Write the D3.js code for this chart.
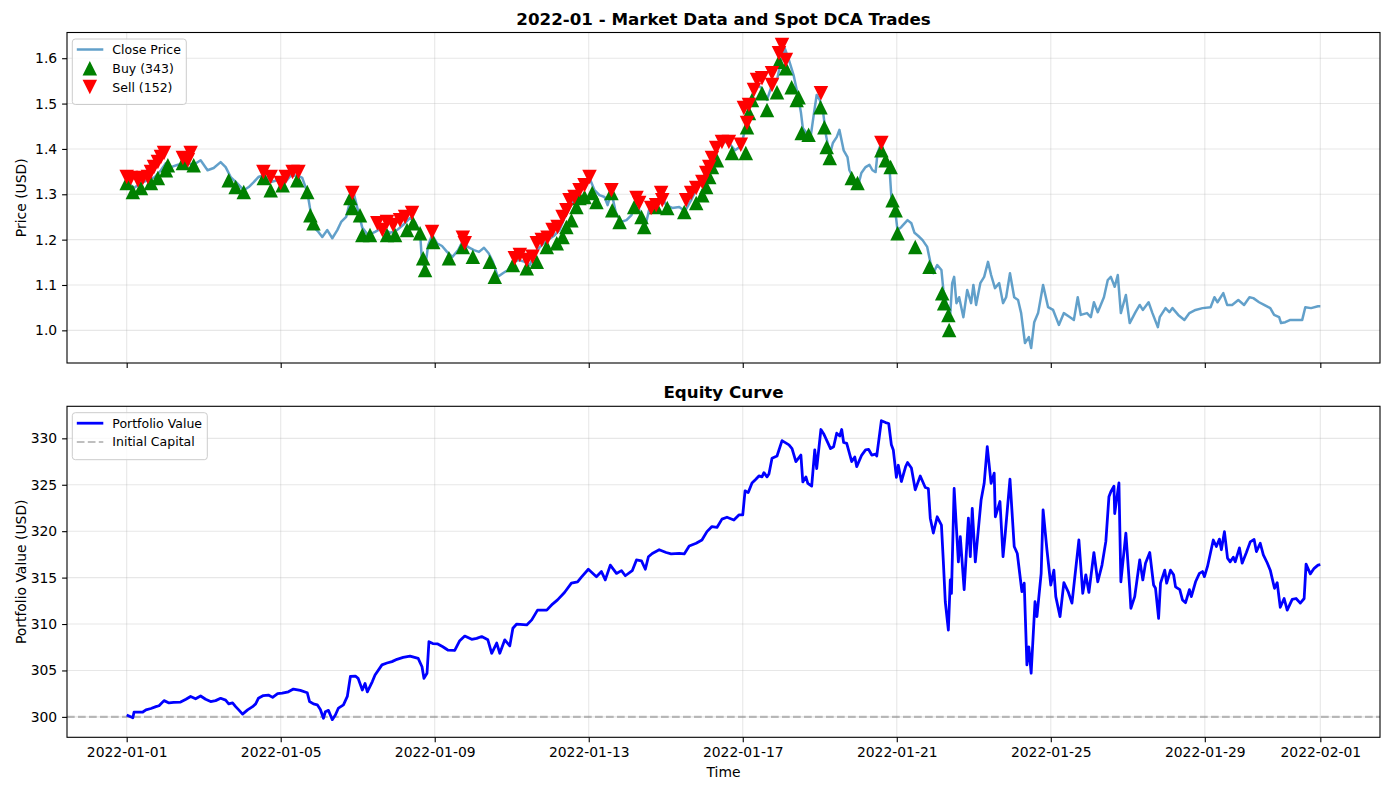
<!DOCTYPE html>
<html>
<head>
<meta charset="utf-8">
<script src="https://cdn.jsdelivr.net/npm/d3@7"></script>
<style>
  body { margin: 0; background: #fff; }
  svg { display: block; font-family: "DejaVu Sans", sans-serif; }
</style>
</head>
<body>
<svg id="chart" width="1389" height="790"></svg>
<script>
// Close price, [day offset from 2022-01-01, USD]
const closePrice = [
  [0.00,1.327],[0.19,1.314],[0.37,1.325],[0.55,1.331],[0.73,1.338],[0.89,1.353],[1.02,1.369],[1.15,1.360],
  [1.33,1.365],[1.54,1.369],[1.74,1.365],[1.92,1.375],[2.10,1.353],[2.26,1.358],[2.44,1.371],[2.57,1.360],
  [2.70,1.338],[2.86,1.325],[3.04,1.309],[3.17,1.316],[3.30,1.327],[3.42,1.338],[3.55,1.342],[3.74,1.327],
  [3.92,1.331],[4.10,1.325],[4.25,1.340],[4.43,1.342],[4.56,1.336],[4.69,1.305],[4.77,1.265],[4.85,1.228],
  [4.98,1.217],[5.08,1.206],[5.21,1.221],[5.34,1.203],[5.47,1.221],[5.57,1.239],[5.70,1.250],[5.81,1.287],
  [5.89,1.305],[5.99,1.270],[6.12,1.226],[6.27,1.210],[6.45,1.217],[6.63,1.226],[6.84,1.215],[7.02,1.221],
  [7.20,1.234],[7.36,1.248],[7.49,1.239],[7.62,1.215],[7.67,1.151],[7.75,1.137],[7.83,1.188],[7.93,1.210],
  [8.06,1.192],[8.19,1.186],[8.32,1.173],[8.46,1.162],[8.61,1.177],[8.74,1.199],[8.86,1.184],[9.02,1.177],
  [9.15,1.173],[9.28,1.182],[9.40,1.170],[9.51,1.151],[9.64,1.118],[9.77,1.126],[9.90,1.133],[10.03,1.151],
  [10.18,1.155],[10.34,1.151],[10.47,1.144],[10.62,1.173],[10.78,1.188],[10.93,1.199],[11.09,1.208],[11.24,1.221],
  [11.37,1.248],[11.50,1.270],[11.63,1.287],[11.76,1.303],[11.89,1.318],[12.02,1.336],[12.15,1.309],[12.28,1.298],
  [12.41,1.294],[12.49,1.276],[12.59,1.305],[12.70,1.261],[12.83,1.239],[12.98,1.243],[13.11,1.254],[13.24,1.287],
  [13.37,1.248],[13.47,1.230],[13.58,1.270],[13.73,1.276],[13.88,1.298],[14.01,1.276],[14.17,1.270],[14.35,1.272],
  [14.50,1.263],[14.66,1.287],[14.81,1.314],[14.95,1.331],[15.07,1.358],[15.20,1.380],[15.33,1.402],[15.49,1.417],
  [15.64,1.413],[15.80,1.397],[15.95,1.406],[16.06,1.442],[16.13,1.481],[16.24,1.512],[16.37,1.541],[16.50,1.534],
  [16.63,1.508],[16.76,1.541],[16.89,1.552],[16.99,1.592],[17.09,1.622],[17.20,1.596],[17.32,1.563],[17.43,1.519],
  [17.51,1.481],[17.56,1.446],[17.66,1.435],[17.77,1.431],[17.85,1.479],[17.92,1.519],[18.00,1.508],[18.08,1.486],
  [18.16,1.431],[18.26,1.387],[18.34,1.413],[18.44,1.426],[18.51,1.442],[18.62,1.397],[18.72,1.382],[18.77,1.353],
  [18.90,1.331],[19.00,1.320],[19.08,1.347],[19.19,1.360],[19.29,1.365],[19.37,1.353],[19.45,1.349],[19.50,1.391],
  [19.60,1.413],[19.71,1.375],[19.81,1.360],[19.86,1.294],[19.94,1.276],[20.02,1.221],[20.12,1.228],[20.28,1.243],
  [20.38,1.236],[20.46,1.215],[20.56,1.208],[20.67,1.199],[20.79,1.184],[20.87,1.151],[20.95,1.126],[21.05,1.144],
  [21.16,1.133],[21.21,1.089],[21.29,1.060],[21.39,1.038],[21.44,1.104],[21.49,1.118],[21.55,1.060],[21.62,1.073],
  [21.73,1.029],[21.83,1.089],[21.93,1.060],[21.99,1.100],[22.06,1.056],[22.17,1.104],[22.27,1.118],[22.37,1.151],
  [22.45,1.122],[22.55,1.093],[22.66,1.104],[22.76,1.060],[22.84,1.073],[22.94,1.126],[23.05,1.073],[23.15,1.067],
  [23.23,1.038],[23.33,0.972],[23.43,0.985],[23.49,0.961],[23.57,1.018],[23.67,1.038],[23.80,1.100],[23.93,1.051],
  [24.06,1.045],[24.21,1.012],[24.34,1.038],[24.50,1.029],[24.60,1.023],[24.70,1.073],[24.78,1.034],[24.94,1.038],
  [25.04,1.029],[25.12,1.062],[25.22,1.040],[25.38,1.073],[25.48,1.111],[25.56,1.118],[25.66,1.096],[25.74,1.122],
  [25.82,1.038],[25.95,1.078],[26.05,1.016],[26.20,1.040],[26.31,1.056],[26.39,1.045],[26.54,1.062],[26.64,1.038],
  [26.78,1.007],[26.83,1.029],[26.98,1.049],[27.08,1.040],[27.16,1.049],[27.31,1.034],[27.47,1.023],[27.60,1.038],
  [27.76,1.045],[27.94,1.049],[28.15,1.051],[28.25,1.073],[28.33,1.062],[28.48,1.082],[28.58,1.056],[28.71,1.056],
  [28.87,1.067],[29.02,1.056],[29.16,1.073],[29.26,1.071],[29.41,1.062],[29.54,1.056],[29.70,1.049],[29.80,1.034],
  [29.93,1.029],[29.98,1.016],[30.09,1.018],[30.22,1.023],[30.37,1.023],[30.53,1.023],[30.61,1.051],[30.76,1.049],
  [30.94,1.053],[31.00,1.053]
];

// Buy fills, [day, price]
const buyTrades = [
  [0.00,1.325],[0.16,1.305],[0.37,1.314],[0.63,1.325],[0.81,1.336],[1.02,1.353],[1.07,1.364],[1.46,1.369],
  [1.74,1.364],[2.65,1.331],[2.83,1.316],[3.04,1.305],[3.56,1.336],[3.74,1.309],[4.05,1.320],[4.43,1.331],
  [4.69,1.305],[4.77,1.254],[4.85,1.236],[5.81,1.292],[5.86,1.270],[6.06,1.254],[6.12,1.210],[6.32,1.210],
  [6.76,1.210],[6.97,1.210],[7.28,1.221],[7.44,1.236],[7.62,1.214],[7.70,1.159],[7.75,1.133],[7.96,1.195],
  [8.37,1.159],[8.73,1.184],[8.99,1.162],[9.43,1.151],[9.56,1.118],[10.03,1.144],[10.39,1.137],[10.65,1.151],
  [10.91,1.184],[11.17,1.192],[11.32,1.206],[11.42,1.228],[11.55,1.243],[11.68,1.272],[11.76,1.292],[11.89,1.294],
  [12.09,1.303],[12.20,1.283],[12.59,1.303],[12.61,1.265],[12.80,1.239],[13.18,1.272],[13.37,1.250],[13.44,1.228],
  [13.75,1.272],[14.04,1.270],[14.48,1.261],[14.79,1.281],[14.95,1.298],[15.05,1.316],[15.13,1.338],[15.20,1.360],
  [15.33,1.375],[15.72,1.391],[16.08,1.391],[16.11,1.448],[16.16,1.479],[16.24,1.508],[16.50,1.523],[16.63,1.486],
  [16.89,1.525],[16.94,1.592],[17.12,1.578],[17.27,1.536],[17.40,1.508],[17.45,1.514],[17.53,1.435],[17.71,1.431],
  [18.02,1.492],[18.12,1.448],[18.18,1.404],[18.26,1.380],[18.83,1.336],[18.98,1.325],[19.60,1.397],[19.71,1.375],
  [19.84,1.360],[19.89,1.287],[19.97,1.265],[20.02,1.214],[20.48,1.184],[20.85,1.140],[21.18,1.082],[21.23,1.060],
  [21.34,1.034],[21.36,1.001]
];

// Sell fills, [day, price]
const sellTrades = [
  [0.00,1.338],[0.11,1.336],[0.29,1.331],[0.42,1.336],[0.55,1.338],[0.63,1.349],[0.71,1.360],[0.81,1.371],
  [0.89,1.382],[0.97,1.391],[1.46,1.380],[1.59,1.375],[1.66,1.391],[3.55,1.349],[3.74,1.338],[4.00,1.325],
  [4.13,1.338],[4.31,1.349],[4.46,1.349],[5.86,1.303],[6.51,1.236],[6.64,1.221],[6.76,1.239],[6.92,1.232],
  [7.10,1.243],[7.23,1.250],[7.41,1.259],[7.93,1.217],[8.73,1.204],[8.78,1.192],[10.08,1.159],[10.21,1.166],
  [10.39,1.155],[10.54,1.162],[10.65,1.192],[10.78,1.199],[10.93,1.204],[11.06,1.221],[11.19,1.228],[11.32,1.250],
  [11.42,1.265],[11.50,1.287],[11.63,1.294],[11.76,1.309],[11.89,1.320],[12.02,1.338],[12.59,1.309],[13.24,1.292],
  [13.31,1.281],[13.62,1.270],[13.75,1.276],[13.88,1.303],[13.91,1.287],[14.53,1.287],[14.66,1.303],[14.79,1.314],
  [14.95,1.327],[15.05,1.347],[15.13,1.360],[15.20,1.380],[15.31,1.402],[15.46,1.415],[15.64,1.415],[15.95,1.409],
  [16.03,1.490],[16.11,1.457],[16.16,1.497],[16.29,1.530],[16.37,1.552],[16.50,1.556],[16.76,1.541],[16.76,1.567],
  [16.94,1.611],[17.02,1.629],[17.12,1.596],[18.03,1.523],[19.60,1.413]
];
const buyCount = 343;
const sellCount = 152;

// Portfolio value, [day, USD]
const portfolioValue = [
  [0.00,300.2],[0.16,299.9],[0.19,300.5],[0.41,300.5],[0.50,300.75],[0.63,300.9],[0.76,301.1],[0.84,301.2],
  [0.97,301.75],[1.10,301.5],[1.22,301.55],[1.40,301.6],[1.54,301.9],[1.66,302.2],[1.79,301.95],[1.92,302.25],
  [2.05,301.9],[2.18,301.65],[2.31,301.75],[2.44,302.0],[2.57,301.8],[2.65,301.4],[2.75,301.5],[2.83,301.1],
  [2.91,300.75],[3.01,300.3],[3.14,300.75],[3.27,301.1],[3.35,301.4],[3.42,302.0],[3.55,302.3],[3.68,302.35],
  [3.79,302.1],[3.92,302.5],[4.04,302.55],[4.20,302.7],[4.33,303.0],[4.51,302.85],[4.69,302.6],[4.75,301.65],
  [4.85,301.4],[4.95,301.3],[5.03,300.8],[5.11,299.85],[5.16,300.55],[5.24,300.7],[5.34,299.7],[5.42,300.2],
  [5.50,300.95],[5.63,301.3],[5.73,302.2],[5.81,304.35],[5.94,304.4],[6.01,304.15],[6.12,302.9],[6.19,303.6],
  [6.25,302.7],[6.38,303.8],[6.45,304.5],[6.63,305.6],[6.76,305.8],[6.89,305.95],[7.02,306.2],[7.18,306.4],
  [7.36,306.55],[7.57,306.3],[7.67,305.4],[7.72,304.15],[7.80,304.7],[7.85,308.1],[7.95,307.9],[8.08,307.85],
  [8.21,307.55],[8.34,307.2],[8.52,307.15],[8.65,308.2],[8.78,308.7],[8.96,308.35],[9.09,308.45],[9.22,308.65],
  [9.38,308.3],[9.48,306.85],[9.61,307.95],[9.69,306.85],[9.82,308.3],[9.95,307.65],[10.03,309.55],[10.13,310.0],
  [10.39,309.9],[10.52,310.45],[10.67,311.5],[10.91,311.5],[11.06,312.15],[11.19,312.6],[11.37,313.4],[11.55,314.4],
  [11.71,314.55],[11.81,315.05],[11.99,315.9],[12.20,315.1],[12.33,315.65],[12.43,314.75],[12.56,316.35],[12.72,315.45],
  [12.85,315.75],[12.95,315.2],[13.13,315.75],[13.24,316.9],[13.37,316.8],[13.47,315.9],[13.55,317.25],[13.65,317.6],
  [13.83,318.0],[14.01,317.7],[14.14,317.55],[14.35,317.6],[14.48,317.55],[14.61,318.4],[14.79,318.7],[14.94,319.05],
  [15.07,319.95],[15.20,320.5],[15.33,320.4],[15.46,321.3],[15.59,321.5],[15.77,321.2],[15.90,321.75],[16.00,321.75],
  [16.06,324.35],[16.14,324.15],[16.24,325.2],[16.34,325.6],[16.42,325.95],[16.50,325.85],[16.55,326.3],[16.63,325.85],
  [16.68,326.15],[16.76,327.85],[16.89,328.1],[17.02,329.75],[17.20,329.3],[17.28,328.9],[17.38,327.5],[17.51,328.2],
  [17.56,325.3],[17.64,325.85],[17.69,325.15],[17.79,324.85],[17.87,328.75],[17.92,326.75],[18.03,330.95],[18.10,330.5],
  [18.28,328.9],[18.36,329.1],[18.44,330.55],[18.52,330.25],[18.57,330.95],[18.62,329.55],[18.70,329.45],[18.83,327.5],
  [18.91,328.0],[18.96,326.95],[19.09,328.2],[19.19,328.75],[19.27,328.8],[19.35,328.2],[19.45,328.3],[19.48,328.1],
  [19.60,331.9],[19.71,331.7],[19.79,331.6],[19.86,329.3],[19.91,328.75],[19.99,325.8],[20.04,327.1],[20.12,325.35],
  [20.23,326.95],[20.28,327.4],[20.38,326.8],[20.48,324.45],[20.61,325.95],[20.74,324.7],[20.82,324.6],[20.87,321.4],
  [20.95,319.8],[21.05,321.55],[21.16,320.65],[21.21,316.7],[21.26,312.4],[21.34,309.35],[21.39,314.75],[21.42,313.3],
  [21.49,324.6],[21.60,316.7],[21.65,319.4],[21.75,313.7],[21.86,321.4],[21.91,317.25],[21.96,322.45],[22.04,316.7],
  [22.19,323.35],[22.27,325.15],[22.35,329.1],[22.45,325.15],[22.53,326.25],[22.56,321.55],[22.68,323.2],[22.76,317.25],
  [22.81,319.4],[22.94,325.6],[23.05,318.35],[23.13,317.6],[23.25,313.5],[23.31,314.4],[23.38,305.6],[23.43,307.55],
  [23.49,304.7],[23.59,312.4],[23.64,310.8],[23.75,315.45],[23.80,322.3],[23.90,318.0],[24.00,314.2],[24.08,315.8],
  [24.13,312.95],[24.24,310.8],[24.34,314.45],[24.45,313.5],[24.55,312.25],[24.73,319.05],[24.83,313.3],[24.91,315.3],
  [24.99,313.4],[25.12,317.7],[25.22,314.55],[25.33,316.35],[25.43,318.9],[25.51,323.7],[25.56,324.25],[25.64,324.85],
  [25.66,321.9],[25.77,325.2],[25.82,314.55],[25.95,319.8],[26.05,313.85],[26.08,311.7],[26.18,312.95],[26.31,316.9],
  [26.39,314.75],[26.46,316.55],[26.57,317.7],[26.67,314.2],[26.72,313.85],[26.80,310.6],[26.85,314.4],[26.96,315.8],
  [27.01,314.4],[27.11,315.8],[27.19,315.3],[27.24,314.0],[27.35,313.7],[27.42,312.6],[27.50,312.3],[27.60,313.7],
  [27.65,312.95],[27.76,314.55],[27.86,315.45],[27.94,315.65],[27.99,315.1],[28.07,316.2],[28.22,319.05],[28.30,318.35],
  [28.38,319.15],[28.43,318.0],[28.51,319.95],[28.59,317.1],[28.66,316.7],[28.74,317.2],[28.79,316.7],[28.90,318.2],
  [28.97,316.55],[29.08,317.7],[29.18,318.85],[29.28,319.1],[29.34,317.8],[29.44,318.7],[29.52,317.45],[29.62,316.6],
  [29.70,315.8],[29.81,313.85],[29.88,314.45],[29.96,311.8],[30.06,312.75],[30.14,311.5],[30.27,312.65],[30.37,312.75],
  [30.48,312.25],[30.58,312.75],[30.63,316.45],[30.74,315.4],[30.84,316.0],[30.94,316.35],[31.00,316.4]
];
const initialCapital = 300;

const priceTicks = [1.0, 1.1, 1.2, 1.3, 1.4, 1.5, 1.6];
const equityTicks = [300, 305, 310, 315, 320, 325, 330];

// ---- layout ----
const startDate = new Date(2022, 0, 1);
const endDate = new Date(2022, 1, 1);
const dayMs = 864e5;
const toDate = d => new Date(startDate.getTime() + d * dayMs);
const pad = 31 * 0.05 * dayMs;

const left = 67, right = 1380;
const top1 = { top: 32.5, bottom: 363 };
const top2 = { top: 406.3, bottom: 737.3 };

const svg = d3.select("#chart");

const x = d3.scaleTime()
  .domain([new Date(startDate.getTime() - pad), new Date(endDate.getTime() + pad)])
  .range([left, right]);
const xTicks = x.ticks(d3.timeDay.every(4));

const yPrice = d3.scaleLinear().domain([0.928, 1.6567]).range([top1.bottom, top1.top]);
const yEq = d3.scaleLinear().domain([297.8, 333.45]).range([top2.bottom, top2.top]);

function panel(y, box, ticks, fmt, showXLabels) {
  const g = svg.append("g");
  g.append("rect").attr("x", left).attr("y", box.top)
    .attr("width", right - left).attr("height", box.bottom - box.top).attr("fill", "#fff");
  // grid
  g.selectAll(".gx").data(xTicks).join("line")
    .attr("x1", d => x(d)).attr("x2", d => x(d))
    .attr("y1", box.top).attr("y2", box.bottom)
    .attr("stroke", "#b0b0b0").attr("stroke-opacity", 0.3).attr("stroke-width", 1.1);
  g.selectAll(".gy").data(ticks).join("line")
    .attr("x1", left).attr("x2", right)
    .attr("y1", d => y(d)).attr("y2", d => y(d))
    .attr("stroke", "#b0b0b0").attr("stroke-opacity", 0.3).attr("stroke-width", 1.1);

  const ax = g.append("g").attr("transform", `translate(0,${box.bottom})`)
    .call(d3.axisBottom(x).tickValues(xTicks).tickSize(4.9).tickPadding(4.9)
      .tickFormat(showXLabels ? d3.timeFormat("%Y-%m-%d") : ""));
  const ay = g.append("g").attr("transform", `translate(${left},0)`)
    .call(d3.axisLeft(y).tickValues(ticks).tickSize(4.9).tickPadding(4.9).tickFormat(fmt));
  [ax, ay].forEach(a => {
    a.select(".domain").remove();
    a.selectAll("line").attr("stroke", "#000").attr("stroke-width", 1.1);
    a.selectAll("text").attr("fill", "#000").style("font-size", "13.9px")
      .style("font-family", "DejaVu Sans, sans-serif");
  });
  return g;
}

function frame(box) {
  svg.append("rect").attr("x", left).attr("y", box.top)
    .attr("width", right - left).attr("height", box.bottom - box.top)
    .attr("fill", "none").attr("stroke", "#000").attr("stroke-width", 1.1);
}

function triangle(up, s) {
  const h = s / 2;
  return up ? `M0,${-h}L${h},${h}L${-h},${h}Z` : `M0,${h}L${h},${-h}L${-h},${-h}Z`;
}

// ---- top panel: price and trades ----
const g1 = panel(yPrice, top1, priceTicks, d3.format(".1f"), false);

g1.append("path")
  .datum(closePrice)
  .attr("fill", "none")
  .attr("stroke", "#1f77b4")
  .attr("stroke-opacity", 0.7)
  .attr("stroke-width", 2.5)
  .attr("stroke-linejoin", "round")
  .attr("d", d3.line().x(d => x(toDate(d[0]))).y(d => yPrice(d[1])));

g1.selectAll(".buy").data(buyTrades).join("path")
  .attr("class", "buy")
  .attr("transform", d => `translate(${x(toDate(d[0]))},${yPrice(d[1])})`)
  .attr("d", triangle(true, 14.5))
  .attr("fill", "#008000");

g1.selectAll(".sell").data(sellTrades).join("path")
  .attr("class", "sell")
  .attr("transform", d => `translate(${x(toDate(d[0]))},${yPrice(d[1])})`)
  .attr("d", triangle(false, 14.5))
  .attr("fill", "#ff0000");

frame(top1);

// ---- bottom panel: equity ----
const g2 = panel(yEq, top2, equityTicks, d3.format("d"), true);

g2.append("line")
  .attr("x1", left).attr("x2", right)
  .attr("y1", yEq(initialCapital)).attr("y2", yEq(initialCapital))
  .attr("stroke", "#808080").attr("stroke-opacity", 0.5)
  .attr("stroke-width", 2.08).attr("stroke-dasharray", "7.7,3.3");

g2.append("path")
  .datum(portfolioValue)
  .attr("fill", "none")
  .attr("stroke", "#0000ff")
  .attr("stroke-width", 2.78)
  .attr("stroke-linejoin", "round")
  .attr("d", d3.line().x(d => x(toDate(d[0]))).y(d => yEq(d[1])));

frame(top2);

// ---- titles and labels ----
const cx = (left + right) / 2;
svg.append("text").attr("x", cx).attr("y", 24.5).attr("text-anchor", "middle")
  .style("font-size", "16.7px").style("font-weight", "bold")
  .text("2022-01 - Market Data and Spot DCA Trades");
svg.append("text").attr("x", cx).attr("y", 398).attr("text-anchor", "middle")
  .style("font-size", "16.7px").style("font-weight", "bold")
  .text("Equity Curve");
svg.append("text").attr("x", cx).attr("y", 777).attr("text-anchor", "middle")
  .style("font-size", "13.9px").text("Time");
svg.append("text")
  .attr("transform", `translate(26,${(top1.top + top1.bottom) / 2}) rotate(-90)`)
  .attr("text-anchor", "middle").style("font-size", "13.9px").text("Price (USD)");
svg.append("text")
  .attr("transform", `translate(26,${(top2.top + top2.bottom) / 2}) rotate(-90)`)
  .attr("text-anchor", "middle").style("font-size", "13.9px").text("Portfolio Value (USD)");

// ---- legends ----
function legend(x0, y0, w, items) {
  const g = svg.append("g").attr("transform", `translate(${x0},${y0})`);
  const h = 10 + items.length * 18.5;
  g.append("rect").attr("width", w).attr("height", h).attr("rx", 3)
    .attr("fill", "#fff").attr("fill-opacity", 0.8)
    .attr("stroke", "#cccccc").attr("stroke-width", 1);
  items.forEach((it, i) => {
    const yy = 10.5 + i * 18.8;
    if (it.type === "line") {
      g.append("line").attr("x1", 4.5).attr("x2", 31).attr("y1", yy).attr("y2", yy)
        .attr("stroke", it.color).attr("stroke-width", it.width)
        .attr("stroke-opacity", it.opacity || 1)
        .attr("stroke-dasharray", it.dash || null);
    } else {
      g.append("path").attr("transform", `translate(17.5,${yy})`)
        .attr("d", triangle(it.type === "up", 14.5)).attr("fill", it.color);
    }
    g.append("text").attr("x", 40).attr("y", yy + 4.4)
      .style("font-size", "12.5px").text(it.label);
  });
}

legend(72.3, 39, 114, [
  { type: "line", color: "#1f77b4", width: 2.5, opacity: 0.7, label: "Close Price" },
  { type: "up", color: "#008000", label: `Buy (${buyCount})` },
  { type: "down", color: "#ff0000", label: `Sell (${sellCount})` }
]);

legend(72.3, 412.7, 135, [
  { type: "line", color: "#0000ff", width: 2.78, label: "Portfolio Value" },
  { type: "line", color: "#808080", width: 2.08, opacity: 0.5, dash: "7.7,3.3", label: "Initial Capital" }
]);
</script>
</body>
</html>
